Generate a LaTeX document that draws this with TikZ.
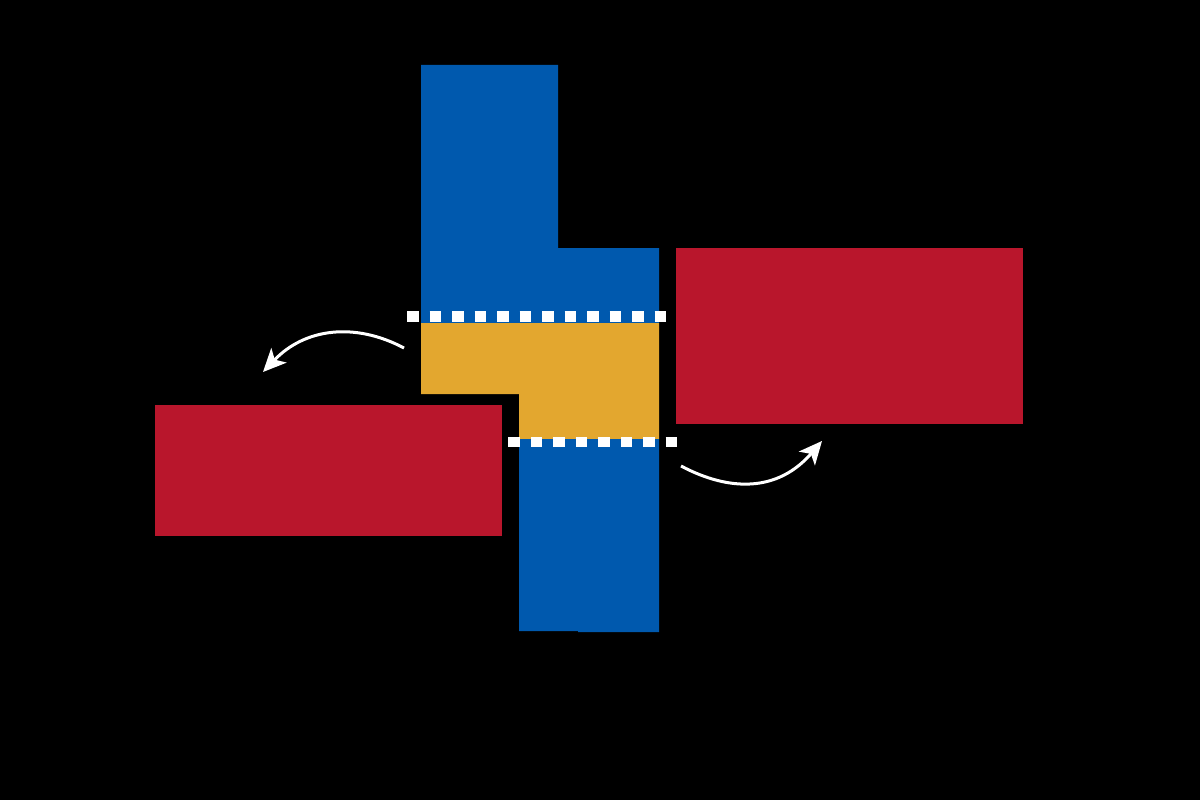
\documentclass[tikz,border=0pt]{standalone}
\usetikzlibrary{arrows.meta}
\definecolor{pblue}{RGB}{0,89,174}
\definecolor{pred}{RGB}{185,22,44}
\definecolor{porange}{RGB}{227,167,47}
\begin{document}
\begin{tikzpicture}[x=1pt,y=-1pt,
  seam/.style={draw=white,line width=10.5pt,line cap=butt,dash pattern=on 11.5pt off 11pt},
  flow/.style={draw=white,line width=3pt,-{Stealth[length=23pt,width=21pt,inset=6pt]}}]
\fill[black] (0,0) rectangle (1200,800);
\useasboundingbox (0,0) rectangle (1200,800);
% blue upper
\fill[pblue] (421,65) -- (558,65) -- (558,248) -- (659,248) -- (659,323) -- (421,323) -- cycle;
% orange
\fill[porange] (421,323) -- (659,323) -- (659,439) -- (519,439) -- (519,394) -- (421,394) -- cycle;
% blue lower
\fill[pblue] (519,439) -- (659,439) -- (659,632) -- (578,632) -- (578,631) -- (519,631) -- cycle;
% red
\fill[pred] (155,405) rectangle (502,536);
\fill[pred] (676,248) rectangle (1023,424);
% seams
\coordinate (s1a) at (407,316.5);
\coordinate (s1b) at (666,316.5);
\coordinate (s2a) at (508,442);
\coordinate (s2b) at (677,442);
\draw[seam] (s1a) -- (s1b);
\draw[seam] (s2a) -- (s2b);
% arrows
\coordinate (a1) at (404,348);
\coordinate (a1e) at (263,372);
\coordinate (a2) at (681,466);
\coordinate (a2e) at (822,441);
\draw[flow] (a1) .. controls (355,322) and (305,328) .. (a1e);
\draw[flow] (a2) .. controls (730,492) and (778,492) .. (a2e);
\end{tikzpicture}
\end{document}
